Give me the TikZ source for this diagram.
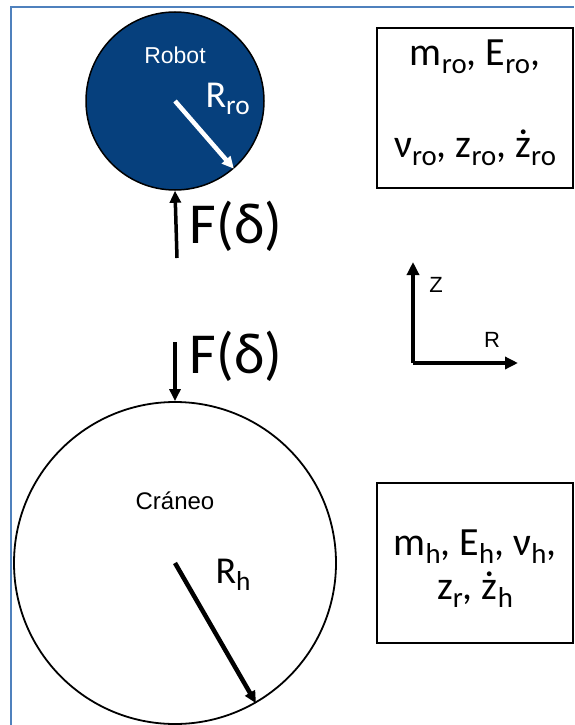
\documentclass[tikz,border=0pt]{standalone}
\usepackage{fontspec}
\setmainfont{Carlito}
\newfontfamily\arialfont{Liberation Sans}
\usetikzlibrary{arrows.meta}
\definecolor{robotblue}{RGB}{6,64,125}
\definecolor{frameblue}{RGB}{79,129,189}
\newcommand{\lo}[1]{\raisebox{-0.2em}{\scalebox{0.72}{#1}}}
\begin{document}
\begin{tikzpicture}[x=1pt,y=-1pt,
    framelines/.style={frameblue, line width=2.5pt},
    thickarrow/.style={line width=3.5pt, -{Triangle[length=12pt,width=11pt]}},
    axisarrow/.style={line width=4pt, -{Triangle[length=13pt,width=12pt]}},
    databox/.style={draw, line width=1.6pt, minimum width=196pt, minimum height=160pt, inner sep=0pt},
    bigtxt/.style={font=\fontsize{40}{39}\selectfont, align=center, inner sep=0pt},
    forcetxt/.style={font=\fontsize{58}{58}\selectfont},
    smalltxt/.style={font=\arialfont\fontsize{23}{23}\selectfont}]
    \useasboundingbox (0,0) rectangle (574,725);
    \draw[framelines] (11,725) -- (11,7) -- (574,7);

    % robot
    \node[circle, draw, line width=1.5pt, fill=robotblue, minimum size=178pt, inner sep=0pt] (robot) at (175,101) {};
    \node[smalltxt, text=white] (robotlbl) at (175,55) {Robot};
    \draw[thickarrow, white, line width=4.5pt] (robot.center) -- (robot.-49);
    \node[text=white, font=\fontsize{38}{38}\selectfont, anchor=base west] (rro) at (202,107) {R\lo{ro}};

    \coordinate (fup) at (177,258);
    \draw[thickarrow] (fup) -- (robot.south);
    \node[forcetxt] (fuplbl) at (236,226) {F(δ)};

    \node[databox] (robotdata) at (475,108) {};
    % base = baseline of the last line
    \node[bigtxt, anchor=base] (robotvars) at (475,157) {m\lo{ro}, E\lo{ro},\\[53pt]ν\lo{ro}, z\lo{ro}, ż\lo{ro}};

    % axes
    \coordinate (orig) at (413,363);
    \coordinate (zend) at (413,262);
    \coordinate (rend) at (518,363);
    \draw[axisarrow] (orig) -- (zend);
    \draw[axisarrow] (orig) -- (rend);
    \node[smalltxt, font=\arialfont\fontsize{22}{22}\selectfont] (zlbl) at (436,285) {Z};
    \node[smalltxt, font=\arialfont\fontsize{22}{22}\selectfont] (rlbl) at (492,340) {R};

    % craneo
    \coordinate (fdown) at (175,342);
    \node[circle, draw, line width=1.8pt, minimum size=322pt, inner sep=0pt] (craneo) at (175,563) {};
    \draw[thickarrow] (fdown) -- (craneo.north);
    \node[forcetxt] (fdownlbl) at (236,356) {F(δ)};
    \node[smalltxt, font=\arialfont\fontsize{24}{24}\selectfont] (craneolbl) at (175,501) {Cráneo};
    \draw[thickarrow, line width=4.5pt] (craneo.center) -- (craneo.-60);
    \node[font=\fontsize{38}{38}\selectfont, anchor=base west] (rh) at (212,583) {R\lo{h}};

    \node[databox] (headdata) at (475,563) {};
    \node[bigtxt, anchor=base] (headvars) at (475,599) {m\lo{h}, E\lo{h}, ν\lo{h},\\[5pt]z\lo{r}, ż\lo{h}};
\end{tikzpicture}
\end{document}
